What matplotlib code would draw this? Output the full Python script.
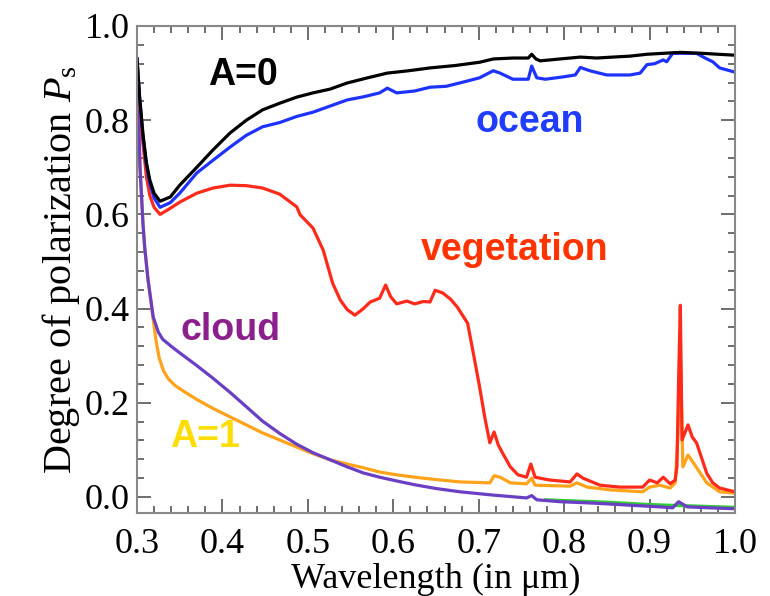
import numpy as np
import matplotlib
matplotlib.use('Agg')
import matplotlib.pyplot as plt
from matplotlib.ticker import MultipleLocator

plt.rcParams['font.family'] = 'Liberation Serif'
plt.rcParams['mathtext.fontset'] = 'custom'
plt.rcParams['mathtext.rm'] = 'Liberation Serif'
plt.rcParams['mathtext.it'] = 'Liberation Serif:italic'

# A=0 (black)
lam_a0 = [0.300, 0.303, 0.307, 0.311, 0.315, 0.320, 0.327, 0.339, 0.350, 0.370, 0.389,
          0.409, 0.428, 0.447, 0.467, 0.487, 0.506, 0.526, 0.546, 0.570, 0.593, 0.618,
          0.643, 0.672, 0.701, 0.717, 0.740, 0.758, 0.762, 0.767, 0.772, 0.795, 0.819,
          0.838, 0.857, 0.877, 0.897, 0.916, 0.936, 0.962, 0.980, 1.000]
p_a0 = [0.93, 0.85, 0.77, 0.71, 0.673, 0.645, 0.628, 0.637, 0.662, 0.70, 0.737,
        0.773, 0.80, 0.822, 0.836, 0.849, 0.858, 0.866, 0.879, 0.89, 0.90, 0.905,
        0.911, 0.916, 0.923, 0.93, 0.932, 0.932, 0.94, 0.93, 0.926, 0.93, 0.934,
        0.932, 0.934, 0.936, 0.94, 0.942, 0.944, 0.942, 0.94, 0.938]

# ocean (blue)
lam_ocean = [0.300, 0.303, 0.307, 0.311, 0.315, 0.320, 0.327, 0.339, 0.350, 0.370, 0.389,
             0.409, 0.428, 0.447, 0.467, 0.487, 0.506, 0.526, 0.546, 0.566, 0.584, 0.593,
             0.604, 0.625, 0.643, 0.662, 0.682, 0.701, 0.717, 0.725, 0.740, 0.758, 0.762,
             0.768, 0.778, 0.799, 0.813, 0.819, 0.830, 0.850, 0.877, 0.889, 0.897, 0.906,
             0.916, 0.920, 0.927, 0.955, 0.965, 0.974, 0.982, 1.000]
p_ocean = [0.93, 0.85, 0.765, 0.705, 0.665, 0.635, 0.615, 0.625, 0.645, 0.688, 0.715,
           0.743, 0.768, 0.786, 0.795, 0.808, 0.817, 0.83, 0.843, 0.85, 0.858, 0.868,
           0.858, 0.862, 0.87, 0.872, 0.881, 0.89, 0.905, 0.9, 0.887, 0.887, 0.915,
           0.89, 0.887, 0.892, 0.896, 0.912, 0.905, 0.896, 0.896, 0.90, 0.918, 0.92,
           0.928, 0.924, 0.942, 0.942, 0.932, 0.924, 0.911, 0.902]

# vegetation (red)
lam_veg = [0.300, 0.303, 0.307, 0.311, 0.315, 0.320, 0.327, 0.339, 0.350, 0.370, 0.389,
           0.409, 0.428, 0.447, 0.467, 0.487, 0.491, 0.506, 0.518, 0.529, 0.538, 0.546,
           0.555, 0.565, 0.573, 0.584, 0.591, 0.597, 0.604, 0.616, 0.625, 0.635, 0.643,
           0.649, 0.658, 0.667, 0.675, 0.687, 0.693, 0.701, 0.707, 0.713, 0.718, 0.723,
           0.728, 0.737, 0.746, 0.756, 0.761, 0.766, 0.783, 0.807, 0.815, 0.822, 0.842,
           0.865, 0.892, 0.900, 0.909, 0.916, 0.924, 0.930, 0.932, 0.934, 0.936, 0.938,
           0.945, 0.950, 0.955, 0.967, 0.974, 0.982, 1.000]
p_veg = [0.93, 0.84, 0.75, 0.68, 0.64, 0.615, 0.60, 0.613, 0.626, 0.645, 0.656,
         0.662, 0.661, 0.656, 0.643, 0.616, 0.599, 0.571, 0.524, 0.454, 0.418, 0.398,
         0.386, 0.40, 0.414, 0.422, 0.45, 0.425, 0.41, 0.416, 0.41, 0.415, 0.414,
         0.439, 0.433, 0.42, 0.403, 0.369, 0.312, 0.234, 0.17, 0.115, 0.138, 0.11,
         0.093, 0.064, 0.047, 0.042, 0.07, 0.042, 0.036, 0.032, 0.049, 0.04, 0.025,
         0.021, 0.021, 0.036, 0.03, 0.042, 0.028, 0.036, 0.064, 0.25, 0.407, 0.121,
         0.153, 0.127, 0.115, 0.05, 0.03, 0.019, 0.011]

# A=1 (orange)
lam_a1 = [0.300, 0.3035, 0.307, 0.309, 0.313, 0.318, 0.322, 0.326, 0.331, 0.337, 0.345,
          0.355, 0.370, 0.389, 0.409, 0.428, 0.447, 0.467, 0.487, 0.506, 0.526, 0.546,
          0.565, 0.584, 0.604, 0.625, 0.650, 0.678, 0.713, 0.718, 0.725, 0.737, 0.756,
          0.762, 0.766, 0.807, 0.815, 0.827, 0.854, 0.892, 0.900, 0.912, 0.924, 0.930,
          0.933, 0.936, 0.939, 0.945, 0.953, 0.967, 0.982, 1.000]
p_a1 = [0.93, 0.70, 0.58, 0.53, 0.46, 0.39, 0.335, 0.295, 0.268, 0.25, 0.236,
        0.224, 0.207, 0.188, 0.17, 0.153, 0.136, 0.121, 0.106, 0.092, 0.079, 0.07,
        0.062, 0.053, 0.047, 0.042, 0.037, 0.032, 0.03, 0.045, 0.042, 0.03, 0.028,
        0.04, 0.025, 0.023, 0.03, 0.021, 0.015, 0.011, 0.021, 0.025, 0.019, 0.03,
        0.12, 0.30, 0.064, 0.089, 0.068, 0.03, 0.011, 0.008]

# cloud (purple)
lam_cloud = [0.300, 0.3035, 0.307, 0.309, 0.313, 0.319, 0.325, 0.330, 0.340, 0.350, 0.370,
             0.389, 0.409, 0.429, 0.447, 0.467, 0.487, 0.506, 0.526, 0.546, 0.565, 0.584,
             0.604, 0.625, 0.650, 0.678, 0.717, 0.756, 0.762, 0.768, 0.795, 0.834, 0.873,
             0.912, 0.927, 0.934, 0.944, 0.970, 1.000]
p_cloud = [0.93, 0.70, 0.58, 0.53, 0.46, 0.382, 0.35, 0.335, 0.32, 0.306, 0.279,
           0.252, 0.222, 0.19, 0.161, 0.135, 0.112, 0.094, 0.079, 0.064, 0.051, 0.042,
           0.034, 0.026, 0.018, 0.011, 0.004, -0.002, 0.003, -0.006, -0.01, -0.013, -0.017,
           -0.021, -0.023, -0.01, -0.021, -0.023, -0.025]

# faint green line under the cloud curve
lam_green = [0.778, 0.850, 0.900, 0.930, 0.950, 1.000]
p_green = [-0.006, -0.011, -0.016, -0.018, -0.019, -0.022]

fig = plt.figure(figsize=(7.7, 5.96), dpi=100)
ax = fig.add_axes([137 / 770, 1 - 513 / 596, 598 / 770, 487 / 596])

lw = 2.3
ax.plot(lam_green, p_green, color='#33cc33', lw=lw)
ax.plot(lam_a1, p_a1, color='#ffa31a', lw=lw)
ax.plot(lam_cloud, p_cloud, color='#6a3fc4', lw=lw)
ax.plot(lam_veg, p_veg, color='#ff2a1a', lw=lw)
ax.plot(lam_ocean, p_ocean, color='#1e32ff', lw=lw)
ax.plot(lam_a0, p_a0, color='black', lw=lw)

ax.set_xlim(0.3, 1.0)
ax.set_ylim(-0.034, 1.0)
ax.xaxis.set_major_locator(MultipleLocator(0.1))
ax.xaxis.set_minor_locator(MultipleLocator(0.02))
ax.yaxis.set_major_locator(MultipleLocator(0.2))
ax.yaxis.set_minor_locator(MultipleLocator(0.04))
ax.xaxis.set_major_formatter(plt.FormatStrFormatter('%.1f'))
ax.yaxis.set_major_formatter(plt.FormatStrFormatter('%.1f'))
ax.tick_params(which='both', direction='in', top=True, right=True,
               color='#555555', width=1.2, labelsize=26)
ax.tick_params(which='major', length=10, pad=5)
ax.tick_params(which='minor', length=5)
ax.tick_params(axis='x', which='major', pad=11)
for s in ax.spines.values():
    s.set_color('#888888')
    s.set_linewidth(1.5)

ax.set_xlabel('Wavelength (in μm)', fontsize=26, labelpad=1)
ax.set_ylabel('Degree of polarization $P_\\mathrm{s}$', fontsize=29, labelpad=2)

sans = dict(family='Liberation Sans', weight='bold', ha='center', va='center')
ax.text(0.424, 0.896, 'A=0', color='black', fontsize=27, **sans)
ax.text(0.76, 0.796, 'ocean', color='#1f3cff', fontsize=27, **sans)
ax.text(0.742, 0.524, 'vegetation', color='#ff3300', fontsize=27, **sans)
ax.text(0.409, 0.355, 'cloud', color='#8b1f8b', fontsize=27, **sans)
ax.text(0.38, 0.127, 'A=1', color='#ffdd00', fontsize=27, **sans)

fig.savefig('out.png', dpi=100)
